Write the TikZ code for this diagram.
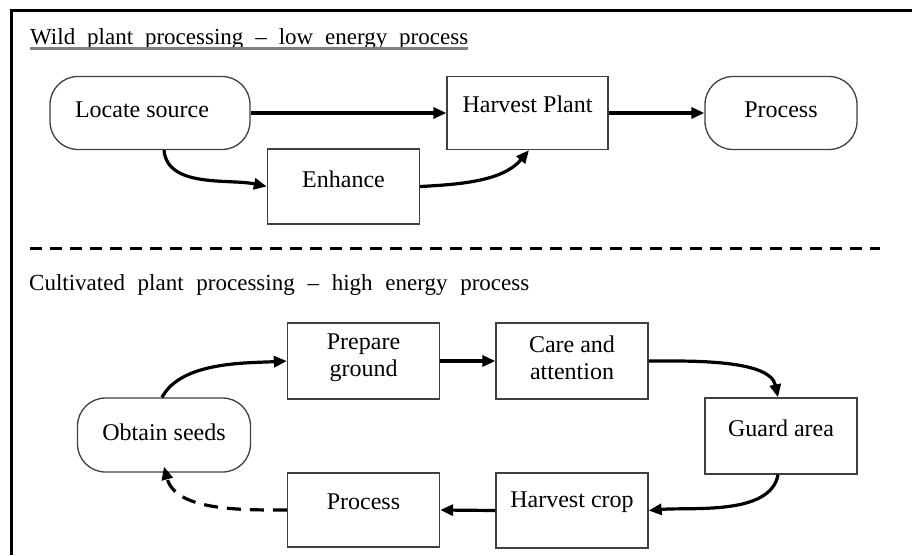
\documentclass[tikz,border=0pt]{standalone}
\usepackage{fontspec}
\setmainfont{Liberation Serif}
\usetikzlibrary{arrows.meta}
\begin{document}
\begin{tikzpicture}[x=1pt,y=-1pt,
  box/.style={draw=black!75, line width=1.3pt, minimum width=152pt, minimum height=75pt, inner sep=0pt},
  rbox/.style={box, rounded corners=28pt},
  lbl/.style={font=\fontsize{24}{27}\selectfont, align=center, inner sep=0pt},
  ttl/.style={font=\fontsize{23}{26}\selectfont, anchor=base west, inner sep=0pt},
  arr/.style={line width=3.2pt, -{Triangle[length=13pt,width=11pt]}},
  darr/.style={arr, dash pattern=on 14pt off 9pt},
]
\useasboundingbox (0,0) rectangle (912,555);
\fill[white] (0,0) rectangle (912,555);
% frame
\draw[line width=3.5pt] (11.7,555) -- (11.7,10.7) -- (912,10.7);
% titles
\node[ttl] (t1) at (30,44.5) {\makebox[438pt][s]{Wild plant processing – low energy process}};
\draw[black!50, line width=2.8pt] (t1.base west) ++(0,4) -- ++(438,0);
\draw[line width=3pt, dash pattern=on 12pt off 8pt] (30,248) -- (880,248);
\node[ttl] (t2) at (29,290) {\makebox[500pt][s]{Cultivated plant processing – high energy process}};
% top row
\node[rbox, minimum width=200pt, minimum height=73pt] (loc) at (150,113) {};
\node[lbl] at (142,110) {Locate source};
\node[box, minimum width=161pt, minimum height=73pt] (hp) at (527.5,113) {};
\node[lbl] at (527.5,104) {Harvest Plant};
\node[rbox, minimum height=73pt] (p1) at (781,113) {};
\node[lbl] at (781,110) {Process};
\node[box] (enh) at (343.5,186.5) {};
\node[lbl] at (343.5,179) {Enhance};
\draw[arr] (loc.east) -- (hp.west);
\draw[arr] (hp.east) -- (p1.west);
\draw[arr] ([xshift=14pt]loc.south) to[out=-85,in=168,looseness=0.9] (enh.west);
\draw[arr] (enh.east) to[out=3,in=-130,looseness=0.9] ([xshift=1.5pt]hp.south);
% bottom cycle
\node[rbox, minimum width=173pt, minimum height=74pt] (os) at (164,435) {};
\node[lbl] at (164,432) {Obtain seeds};
\node[box, minimum height=76pt] (pg) at (363.5,361) {};
\node[lbl] at (363.5,358) {Prepare\\ground};
\node[box, minimum height=76pt] (ca) at (572,361) {};
\node[lbl] at (572,358) {Care and\\attention};
\node[box, minimum height=76pt] (ga) at (781,436) {};
\node[lbl] at (781,428) {Guard area};
\node[box] (hc) at (572,510.5) {};
\node[lbl] at (572,502) {Harvest crop};
\node[box, minimum height=74pt] (p2) at (363.5,510) {};
\node[lbl] at (363.5,502) {Process};
\draw[arr] ([xshift=-2pt]os.north) to[out=62,in=183,looseness=0.8] (pg.west);
\draw[arr] (pg.east) -- (ca.west);
\draw[arr] (ca.east) to[out=0,in=102,looseness=0.75] ([xshift=-3pt]ga.north);
\draw[arr] ([xshift=-3pt]ga.south) to[out=-100,in=5,looseness=0.8] (hc.east);
\draw[arr] (hc.west) -- (p2.east);
\draw[darr] (p2.west) to[out=180,in=-75,looseness=0.9] ([yshift=6pt]os.south);
\end{tikzpicture}
\end{document}
